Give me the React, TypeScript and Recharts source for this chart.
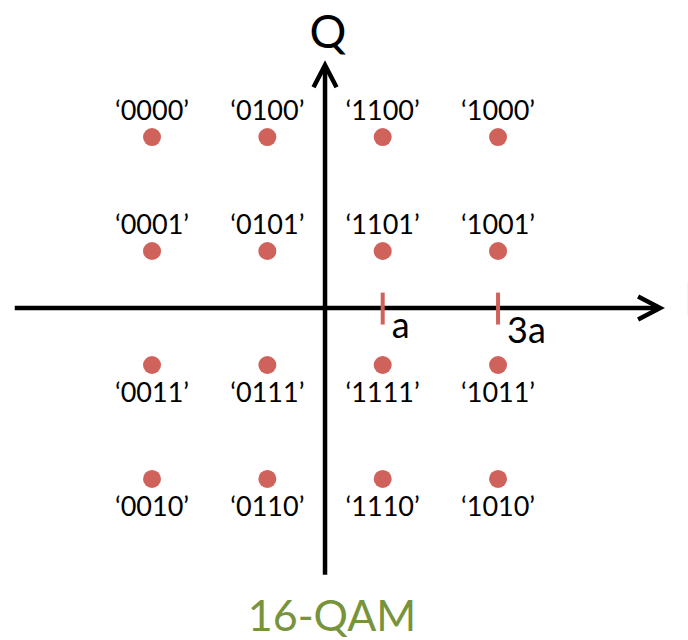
import { ScatterChart, Scatter, XAxis, YAxis, ReferenceLine, LabelList } from 'recharts'

const LEVELS = [-3, -1, 1, 3]
const UPPER_CODES = [
  ['0000', '0100', '1100', '1000'],
  ['0001', '0101', '1101', '1001'],
]
const LOWER_CODES = [
  ['0011', '0111', '1111', '1011'],
  ['0010', '0110', '1110', '1010'],
]
const UPPER_ROWS = [3, 1]
const LOWER_ROWS = [-1, -3]
const TICK_VALUES = [1, 3]
const TICK_LABELS = ['a', '3a']

const X_DOMAIN = [-5.636, 6.294]
const Y_DOMAIN = [-5.825, 5.404]
const I_AXIS = [-5.38, 5.81]
const Q_AXIS = [-4.68, 4.26]

const DOT = '#D0625C'
const FONT = 'Lato, "Open Sans", sans-serif'

const toPoints = (codes: string[][], rows: number[]) =>
  codes.flatMap((row, r) => row.map((code, c) => ({ x: LEVELS[c], y: rows[r], code })))

const upper = toPoints(UPPER_CODES, UPPER_ROWS)
const lower = toPoints(LOWER_CODES, LOWER_ROWS)

const Arrow = (props: any) => {
  const { x1, y1, x2, y2 } = props
  const dx = x2 - x1
  const dy = y2 - y1
  const len = Math.hypot(dx, dy)
  const ux = dx / len
  const uy = dy / len
  const back = 22
  const side = 11.5
  const p1 = `${x2 - ux * back - uy * side},${y2 - uy * back + ux * side}`
  const p2 = `${x2 - ux * back + uy * side},${y2 - uy * back - ux * side}`
  return (
    <g>
      <line x1={x1} y1={y1} x2={x2 - ux * 2} y2={y2 - uy * 2} stroke="#000" strokeWidth={4.5} />
      <polyline points={`${p1} ${x2},${y2} ${p2}`} fill="none" stroke="#000" strokeWidth={4.5} />
    </g>
  )
}

const tickShape = (text: string, dy: number) => (props: any) => {
  const { x1, y1, x2, y2 } = props
  return (
    <g>
      <line x1={x1} y1={y1} x2={x2} y2={y2} stroke={DOT} strokeWidth={4} />
      <text x={x1 + 9} y={Math.max(y1, y2) + dy} fontFamily={FONT} fontSize={36} fill="#000">
        {text}
      </text>
    </g>
  )
}

const codeLabel = (dy: number) => (props: any) => {
  const { x, y, width, height, value } = props
  const cx = x + (width || 0) / 2
  const cy = y + (height || 0) / 2
  return (
    <text x={cx} y={cy + dy} textAnchor="middle" fontFamily={FONT} fontSize={27} fill="#000">
      {`\u2018${value}\u2019`}
    </text>
  )
}

const dotShape = (props: any) => <circle cx={props.cx} cy={props.cy} r={9} fill={DOT} />

export default function App() {
  return (
    <div style={{ position: 'fixed', left: 0, top: 0, width: 688, height: 640, background: '#fff' }}>
      <ScatterChart width={688} height={640} margin={{ top: 0, right: 0, bottom: 0, left: 0 }}>
        <XAxis type="number" dataKey="x" domain={X_DOMAIN} allowDataOverflow hide />
        <YAxis type="number" dataKey="y" domain={Y_DOMAIN} allowDataOverflow hide />
        <ReferenceLine
          segment={[{ x: I_AXIS[0], y: 0 }, { x: I_AXIS[1], y: 0 }]}
          shape={Arrow}
          ifOverflow="visible"
        />
        <ReferenceLine
          segment={[{ x: 0, y: Q_AXIS[0] }, { x: 0, y: Q_AXIS[1] }]}
          shape={Arrow}
          ifOverflow="visible"
        />
        {TICK_VALUES.map((v, i) => (
          <ReferenceLine
            key={v}
            segment={[{ x: v, y: -0.29 }, { x: v, y: 0.27 }]}
            shape={tickShape(TICK_LABELS[i], i === 0 ? 13 : 18)}
            ifOverflow="visible"
          />
        ))}
        <Scatter data={upper} shape={dotShape} isAnimationActive={false}>
          <LabelList dataKey="code" content={codeLabel(-17)} />
        </Scatter>
        <Scatter data={lower} shape={dotShape} isAnimationActive={false}>
          <LabelList dataKey="code" content={codeLabel(37)} />
        </Scatter>
        <text x={328} y={48} textAnchor="middle" fontFamily={FONT} fontSize={46} fill="#000">
          Q
        </text>
        <text x={684} y={315} fontFamily={FONT} fontSize={46} fill="#000">
          I
        </text>
        <text x={332} y={631} textAnchor="middle" fontFamily={FONT} fontSize={43} fill="#77933C">
          16-QAM
        </text>
      </ScatterChart>
    </div>
  )
}
